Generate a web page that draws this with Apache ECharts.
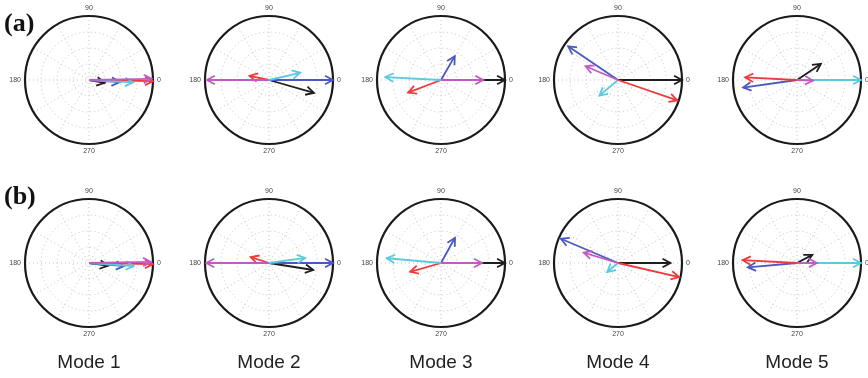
<!DOCTYPE html>
<html>
<head>
<meta charset="utf-8">
<script src="https://cdn.jsdelivr.net/npm/echarts@6/dist/echarts.min.js"></script>
<style>html,body{margin:0;padding:0;background:#fff}#c{width:868px;height:378px}</style>
</head>
<body>
<div id="c"></div>
<script>
// Modes (columns)
const modes = ['Mode 1', 'Mode 2', 'Mode 3', 'Mode 4', 'Mode 5'];
const rowLabels = ['(a)', '(b)'];
const angleTickLabels = [0, 90, 180, 270];
// Arrow data: [magnitude (fraction of outer ring), angle in degrees], one pair per mode
const aBlack   = [[0.25, -10], [0.73, -16], [1.00, 0],   [1.00, 0],   [0.45, 34]];
const aBlue    = [[0.48, -4],  [1.00, 0],   [0.43, 60],  [0.94, 146], [0.85, 188]];
const aRed     = [[1.00, -1],  [0.31, 168], [0.55, 201], [0.98, -19], [0.81, 177]];
const aCyan    = [[0.69, -3],  [0.50, 13],  [0.87, 177], [0.38, 220], [1.00, 0]];
const aMagenta = [[0.98, 1],   [0.97, 180], [0.66, 0],   [0.55, 157], [0.25, -2]];
const bBlack   = [[0.30, -8],  [0.70, -9],  [1.00, 0],   [0.82, 0],   [0.27, 28]];
const bBlue    = [[0.55, -5],  [1.00, 0],   [0.45, 61],  [0.97, 157], [0.77, 185]];
const bRed     = [[1.00, -1],  [0.30, 162], [0.50, 196], [0.98, -13], [0.85, 177]];
const bCyan    = [[0.70, -4],  [0.57, 8],   [0.85, 175], [0.22, 220], [1.00, 0]];
const bMagenta = [[0.97, 1],   [0.98, 180], [0.64, 0],   [0.56, 163], [0.31, 0]];

const arrowColors = ['#1e1e1e', '#4a58c2', '#ee3a3c', '#5cc9de', '#c15ac3'];
const rows = [
  [aBlack, aBlue, aRed, aCyan, aMagenta],
  [bBlack, bBlue, bRed, bCyan, bMagenta]
];

const centersX = [89, 269, 441, 618, 797];
const centersY = [80, 263];
const R = 64;

const polar = [], angleAxis = [], radiusAxis = [], series = [];
let idx = 0;
rows.forEach((row, ri) => {
  modes.forEach((m, mi) => {
    polar.push({ center: [centersX[mi], centersY[ri]], radius: R });
    angleAxis.push({
      polarIndex: idx, type: 'value', min: 0, max: 360, interval: 30,
      startAngle: 0, clockwise: false,
      axisLine: { show: true, lineStyle: { color: '#1a1a1a', width: 2.2 } },
      axisTick: { show: false },
      axisLabel: {
        show: true, margin: 4, fontSize: 7, color: '#444', fontFamily: 'Liberation Sans',
        formatter: v => (angleTickLabels.indexOf(v) >= 0 ? String(v) : '')
      },
      splitLine: { show: true, lineStyle: { color: '#c4c4c4', type: [1, 3], width: 1 } }
    });
    radiusAxis.push({
      polarIndex: idx, type: 'value', min: 0, max: 1, interval: 0.25,
      axisLine: { show: false }, axisTick: { show: false }, axisLabel: { show: false },
      splitLine: { show: true, lineStyle: { color: '#c4c4c4', type: [1, 3], width: 1 } }
    });
    const data = row.map(arr => [arr[mi][0], arr[mi][1]]);
    series.push({
      type: 'custom', coordinateSystem: 'polar', polarIndex: idx,
      data: data,
      silent: true,
      renderItem: function (params, api) {
        const r = api.value(0), a = api.value(1);
        const color = arrowColors[params.dataIndex];
        const c = api.coord([0, a]);
        const p = api.coord([r, a]);
        const dx = p[0] - c[0], dy = p[1] - c[1];
        const len = Math.hypot(dx, dy) || 1;
        const ux = dx / len, uy = dy / len;
        const hl = 9, ha = 28 * Math.PI / 180;
        const cos = Math.cos(ha), sin = Math.sin(ha);
        const h1 = [p[0] - hl * (ux * cos - uy * sin), p[1] - hl * (uy * cos + ux * sin)];
        const h2 = [p[0] - hl * (ux * cos + uy * sin), p[1] - hl * (uy * cos - ux * sin)];
        return {
          type: 'group',
          children: [
            { type: 'line', shape: { x1: c[0], y1: c[1], x2: p[0], y2: p[1] },
              style: { stroke: color, lineWidth: 1.8 } },
            { type: 'polyline', shape: { points: [h1, p, h2] },
              style: { stroke: color, lineWidth: 1.8, fill: null } }
          ]
        };
      }
    });
    idx++;
  });
});

const graphic = [];
modes.forEach((m, mi) => {
  graphic.push({ type: 'text', x: centersX[mi], y: 363,
    style: { text: m, font: '19px "Liberation Sans", Arial, sans-serif', fill: '#222',
      align: 'center', verticalAlign: 'middle' } });
});
rowLabels.forEach((t, ri) => {
  graphic.push({ type: 'text', x: 4, y: [24, 197][ri],
    style: { text: t, font: 'bold 26px "Liberation Serif", "Times New Roman", serif', fill: '#111',
      align: 'left', verticalAlign: 'middle' } });
});

const chart = echarts.init(document.getElementById('c'), null, { renderer: 'canvas' });
chart.setOption({
  animation: false,
  backgroundColor: '#fff',
  polar, angleAxis, radiusAxis, series, graphic
});
</script>
</body>
</html>
